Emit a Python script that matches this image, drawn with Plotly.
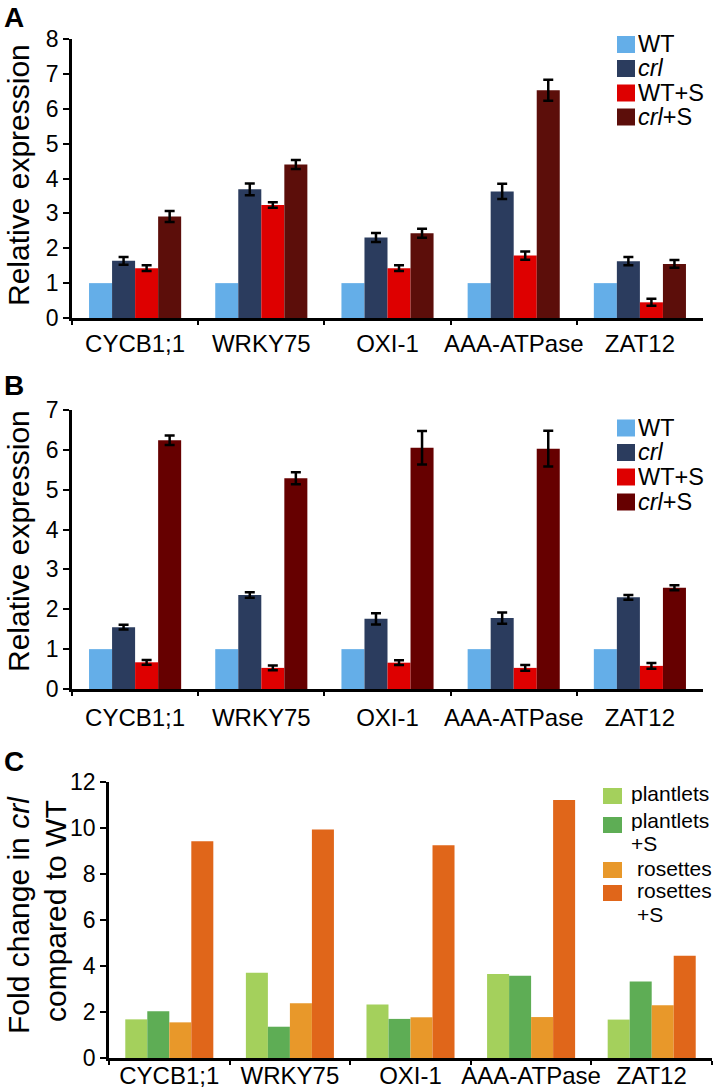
import plotly.graph_objects as go

W, H = 717, 1089

genes = ["CYCB1;1", "WRKY75", "OXI-1", "AAA-ATPase", "ZAT12"]

# Panel A / B series
ab_names = ["WT", "<i>crl</i>", "WT+S", "<i>crl</i>+S"]

a_wt = [1, 1, 1, 1, 1]
a_crl = [1.64, 3.69, 2.31, 3.63, 1.63]
a_wts = [1.43, 3.24, 1.43, 1.79, 0.45]
a_crls = [2.91, 4.40, 2.43, 6.53, 1.55]
a_crl_err = [0.11, 0.17, 0.13, 0.22, 0.12]
a_wts_err = [0.08, 0.08, 0.08, 0.12, 0.10]
a_crls_err = [0.16, 0.13, 0.13, 0.30, 0.11]

b_wt = [1, 1, 1, 1, 1]
b_crl = [1.55, 2.36, 1.76, 1.78, 2.30]
b_wts = [0.67, 0.53, 0.66, 0.53, 0.58]
b_crls = [6.24, 5.29, 6.05, 6.03, 2.54]
b_crl_err = [0.06, 0.07, 0.14, 0.14, 0.06]
b_wts_err = [0.06, 0.06, 0.06, 0.07, 0.07]
b_crls_err = [0.12, 0.15, 0.42, 0.45, 0.06]

# Panel C series (legend labels wrap onto a second line)
c_names = ["plantlets", "plantlets +S", "rosettes", "rosettes +S"]
c_plantlets = [1.68, 3.71, 2.33, 3.65, 1.67]
c_plantlets_s = [2.03, 1.36, 1.70, 3.58, 3.33]
c_rosettes = [1.55, 2.38, 1.77, 1.78, 2.29]
c_rosettes_s = [9.42, 9.94, 9.25, 11.22, 4.45]

ab_colors_a = ["#64AEE8", "#2B3C5E", "#DE0000", "#5C0E0A"]
ab_colors_b = ["#64AEE8", "#2B3C5E", "#DE0000", "#660000"]
c_colors = ["#A4D05C", "#5EAD55", "#E8982A", "#E0661A"]

FONT = "Liberation Sans, Arial, sans-serif"


def px_x(p):
    return p / W


def px_y(p):
    return 1 - p / H


fig = go.Figure()


def err(arr):
    if arr is None:
        return None
    return dict(type="data", array=arr, visible=True, color="black",
                thickness=2.5, width=5)


panel_a = [(a_wt, None), (a_crl, a_crl_err), (a_wts, a_wts_err), (a_crls, a_crls_err)]
panel_b = [(b_wt, None), (b_crl, b_crl_err), (b_wts, b_wts_err), (b_crls, b_crls_err)]
panel_c = [c_plantlets, c_plantlets_s, c_rosettes, c_rosettes_s]

for i, (vals, e) in enumerate(panel_a):
    fig.add_trace(go.Bar(x=genes, y=vals, name=ab_names[i], marker_color=ab_colors_a[i],
                         marker_line_width=0, error_y=err(e), xaxis="x", yaxis="y",
                         showlegend=False))
for i, (vals, e) in enumerate(panel_b):
    fig.add_trace(go.Bar(x=genes, y=vals, name=ab_names[i], marker_color=ab_colors_b[i],
                         marker_line_width=0, error_y=err(e), xaxis="x2", yaxis="y2",
                         showlegend=False))
for i, vals in enumerate(panel_c):
    fig.add_trace(go.Bar(x=genes, y=vals, name=c_names[i], marker_color=c_colors[i],
                         marker_line_width=0, xaxis="x3", yaxis="y3",
                         showlegend=False))


def xaxis(dom, anchor, standoff):
    return dict(domain=dom, anchor=anchor, type="category", showline=True, linecolor="black",
                linewidth=2.5, ticks="outside", tickson="boundaries", ticklen=4, tickwidth=2,
                tickcolor="black", showgrid=False, zeroline=False, automargin=False,
                tickangle=0, tickfont=dict(family=FONT, size=24, color="black"),
                ticklabelstandoff=standoff)


def yaxis(dom, anchor, rng, dtick):
    return dict(domain=dom, anchor=anchor, range=rng, dtick=dtick, showline=True,
                linecolor="black", linewidth=2.5, ticks="outside", ticklen=6, tickwidth=2,
                tickcolor="black", showgrid=False, zeroline=False, automargin=False,
                tickfont=dict(family=FONT, size=23, color="black"))


fig.update_layout(
    width=W, height=H,
    margin=dict(l=0, r=0, t=0, b=0, autoexpand=False),
    paper_bgcolor="white", plot_bgcolor="white",
    bargap=0.27, bargroupgap=0, barmode="group",
    font=dict(family=FONT, color="black"),
    xaxis=xaxis([px_x(72), px_x(703)], "y", 2),
    yaxis=yaxis([px_y(318), px_y(39)], "x", [0, 8], 1),
    xaxis2=xaxis([px_x(72), px_x(703)], "y2", 5),
    yaxis2=yaxis([px_y(689), px_y(410)], "x2", [0, 7], 1),
    xaxis3=xaxis([px_x(109), px_x(712)], "y3", -6),
    yaxis3=yaxis([px_y(1058), px_y(782)], "x3", [0, 12], 2),
)

annotations = []
shapes = []


def txt(text, x, y, size, anchor="left", angle=0, height=None):
    d = dict(text=text, x=px_x(x), y=px_y(y), xref="paper", yref="paper",
             showarrow=False, xanchor=anchor, yanchor="middle", textangle=angle,
             font=dict(family=FONT, size=size, color="black"))
    if height is not None:
        d["height"] = height
    return d


# Panel letters
for letter, cx, cy in [("A", 14, 17), ("B", 14, 385), ("C", 14, 761)]:
    annotations.append(txt("<b>%s</b>" % letter, cx, cy, 28, "center"))

# Y-axis titles
annotations.append(txt("Relative expression", 18, 175, 30, "center", -90))
annotations.append(txt("Relative expression", 18, 541, 30, "center", -90))
annotations.append(txt("Fold change in <i>crl</i>", 18, 915, 30, "center", -90))
annotations.append(txt("compared to WT", 55, 911, 30, "center", -90))

# Custom legends (A and B)
for centers, colors in [([44.5, 68.5, 93, 117], ab_colors_a), ([428, 452.5, 477, 502], ab_colors_b)]:
    for name, cy, col in zip(ab_names, centers, colors):
        shapes.append(dict(type="rect", xref="paper", yref="paper", x0=px_x(617), x1=px_x(635),
                           y0=px_y(cy - 8.5), y1=px_y(cy + 8.5), fillcolor=col, line_width=0))
        annotations.append(txt(name, 636, cy, 23.5, height=22))

# Custom legend (C): one swatch per series, label split over lines
c_sq = [796, 825, 870, 893]
c_lines_y = [[793], [820, 843], [868], [890, 914]]
c_text_x = [629, 629, 635, 635]
for name, sq, ys, tx, col in zip(c_names, c_sq, c_lines_y, c_text_x, c_colors):
    shapes.append(dict(type="rect", xref="paper", yref="paper", x0=px_x(603), x1=px_x(622),
                       y0=px_y(sq - 8), y1=px_y(sq + 8), fillcolor=col, line_width=0))
    parts = name.split(" ") if len(ys) > 1 else [name]
    for part, ly in zip(parts, ys):
        annotations.append(txt(part, tx, ly, 21, height=21))

fig.update_layout(annotations=annotations, shapes=shapes)

fig.write_html("out.html", config={"displayModeBar": False},
               post_script="document.body.style.margin='0';"
                           "document.documentElement.style.overflow='hidden';")
